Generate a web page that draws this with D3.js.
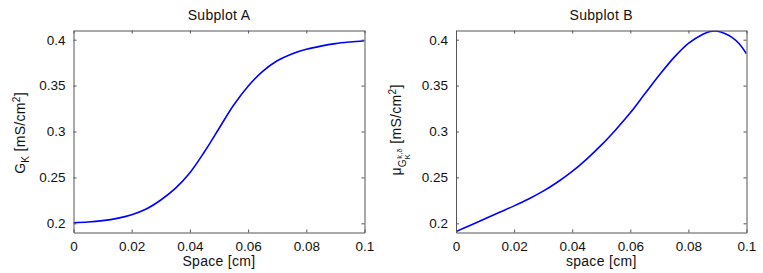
<!DOCTYPE html>
<html>
<head>
<meta charset="utf-8">
<script src="https://cdn.jsdelivr.net/npm/d3@7"></script>
<style>
  body { margin: 0; background: #fff; }
  text { font-family: "Liberation Sans", Arial, sans-serif; fill: #111; }
</style>
</head>
<body>
<div id="chart"></div>
<script>
var svgWidth = 763;
var svgHeight = 273;

// values
var spaceA = [0, 0.005, 0.01, 0.015, 0.02, 0.025, 0.03, 0.035, 0.04, 0.045, 0.05,
  0.055, 0.06, 0.065, 0.07, 0.075, 0.08, 0.085, 0.09, 0.095, 0.1];
var gkA = [0.2007, 0.2014, 0.2029, 0.2054, 0.2094, 0.2156, 0.2254, 0.2380, 0.2551, 0.2779, 0.3033,
  0.3286, 0.3493, 0.3655, 0.3770, 0.3845, 0.3895, 0.3930, 0.3957, 0.3975, 0.3989];

var spaceB = [0, 0.005, 0.01, 0.015, 0.02, 0.025, 0.03, 0.035, 0.04, 0.045, 0.05,
  0.055, 0.06, 0.065, 0.07, 0.075, 0.08, 0.085, 0.0875, 0.09, 0.0925, 0.095, 0.0975, 0.1];
var muB = [0.1910, 0.1980, 0.2050, 0.2120, 0.2190, 0.2265, 0.2350, 0.2450, 0.2565, 0.2700, 0.2851,
  0.3020, 0.3203, 0.3410, 0.3615, 0.3805, 0.3960, 0.4060, 0.4090, 0.4092, 0.4068, 0.4025, 0.3955, 0.3845];

var xTicks = [0, 0.02, 0.04, 0.06, 0.08, 0.1];
var yTicks = [0.2, 0.25, 0.3, 0.35, 0.4];
var xDomain = [0, 0.1];
var yDomain = [0.19, 0.41];

var svg = d3.select("#chart")
  .append("svg")
  .attr("width", svgWidth)
  .attr("height", svgHeight);

var axisColor = "#555";

function drawPanel(opts) {
  var left = opts.left, top = 30.5, width = opts.width, height = 202;

  var g = svg.append("g")
    .attr("transform", `translate(${left}, ${top})`);

  var x = d3.scaleLinear().domain(xDomain).range([0, width]);
  var y = d3.scaleLinear().domain(yDomain).range([height, 0]);

  var clipId = "clip" + opts.id;
  g.append("clipPath").attr("id", clipId)
    .append("rect").attr("width", width).attr("height", height);

  // line
  var data = opts.xs.map((d, i) => [d, opts.ys[i]]);
  g.append("path")
    .datum(data)
    .attr("clip-path", `url(#${clipId})`)
    .attr("fill", "none")
    .attr("stroke", "#0000ff")
    .attr("stroke-width", 1.6)
    .attr("d", d3.line()
      .x(d => x(d[0]))
      .y(d => y(d[1]))
      .curve(d3.curveCatmullRom));

  var fmt = d => String(+d.toFixed(3));

  var bottom = g.append("g")
    .attr("transform", `translate(0, ${height})`)
    .call(d3.axisBottom(x).tickValues(xTicks).tickFormat(fmt)
      .tickSizeInner(-3).tickSizeOuter(0).tickPadding(8.5));
  var leftAx = g.append("g")
    .call(d3.axisLeft(y).tickValues(yTicks).tickFormat(fmt)
      .tickSizeInner(-3).tickSizeOuter(0).tickPadding(8));
  var topAx = g.append("g")
    .call(d3.axisTop(x).tickValues(xTicks).tickFormat("")
      .tickSizeInner(-3).tickSizeOuter(0));
  var rightAx = g.append("g")
    .attr("transform", `translate(${width}, 0)`)
    .call(d3.axisRight(y).tickValues(yTicks).tickFormat("")
      .tickSizeInner(-3).tickSizeOuter(0));

  [bottom, leftAx, topAx, rightAx].forEach(a => {
    a.selectAll("path, line").attr("stroke", axisColor);
    a.selectAll("text")
      .style("font-family", "'Liberation Sans', Arial, sans-serif")
      .style("font-size", "13.5px")
      .attr("fill", "#111");
  });

  // title
  g.append("text")
    .attr("x", width / 2)
    .attr("y", -10.5)
    .attr("text-anchor", "middle")
    .style("font-size", "14px")
    .style("letter-spacing", "0.3px")
    .text(opts.title);

  // x label
  g.append("text")
    .attr("x", width / 2)
    .attr("y", height + 33)
    .attr("text-anchor", "middle")
    .style("font-size", "14px")
    .style("letter-spacing", "0.3px")
    .text(opts.xLabel);

  // y label
  var yl = g.append("text")
    .attr("transform", `translate(${opts.yLabelX}, ${opts.yLabelY - top}) rotate(-90)`)
    .attr("text-anchor", "middle")
    .style("font-size", "14px")
    .style("letter-spacing", "0.3px");
  opts.yLabel(yl);
}

drawPanel({
  id: "A", left: 73.5, width: 291,
  xs: spaceA, ys: gkA,
  title: "Subplot A",
  xLabel: "Space [cm]",
  yLabelX: 25 - 73.5,
  yLabelY: 133,
  yLabel: function(t) {
    t.append("tspan").text("G");
    t.append("tspan").attr("dy", 4).style("font-size", "10px").text("K");
    t.append("tspan").attr("dy", -4).text(" [mS/cm");
    t.append("tspan").attr("dy", -5).style("font-size", "10px").text("2");
    t.append("tspan").attr("dy", 5).text("]");
  }
});

drawPanel({
  id: "B", left: 456, width: 290.5,
  xs: spaceB, ys: muB,
  title: "Subplot B",
  xLabel: "space [cm]",
  yLabelX: 401 - 456,
  yLabelY: 130,
  yLabel: function(t) {
    t.append("tspan").text("\u03bc");
    t.append("tspan").attr("dy", 5).style("font-size", "10px").text("G");
    t.append("tspan").attr("dy", 4).style("font-size", "7.5px").text("K");
    t.append("tspan").attr("dy", -8).attr("dx", -5).style("font-size", "7.5px").text("k,\u03b4");
    t.append("tspan").attr("dy", -1).text(" [mS/cm");
    t.append("tspan").attr("dy", -5).style("font-size", "10px").text("2");
    t.append("tspan").attr("dy", 5).text("]");
  }
});
</script>
</body>
</html>
